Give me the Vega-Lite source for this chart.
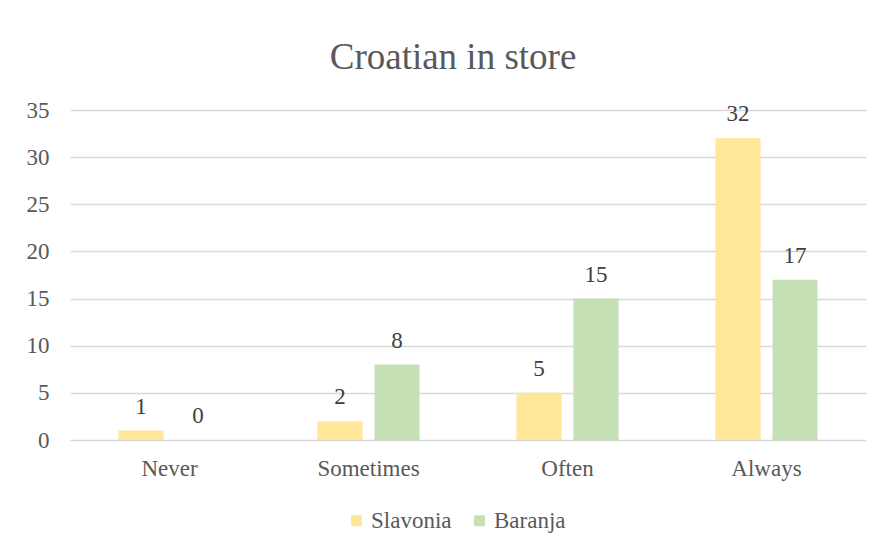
{
  "$schema": "https://vega.github.io/schema/vega-lite/v6.json",
  "autosize": {"type": "none"},
  "width": 796,
  "height": 330,
  "padding": {"left": 70, "top": 110, "right": 19, "bottom": 110},
  "background": "white",
  "title": {
    "text": "Croatian in store",
    "font": "Liberation Serif",
    "fontSize": 37,
    "fontWeight": "normal",
    "color": "#595959",
    "anchor": "middle",
    "frame": "group",
    "dx": -15,
    "offset": 22
  },
  "data": {
    "values": [
      {"cat": "Never", "series": "Slavonia", "value": 1},
      {"cat": "Never", "series": "Baranja", "value": 0},
      {"cat": "Sometimes", "series": "Slavonia", "value": 2},
      {"cat": "Sometimes", "series": "Baranja", "value": 8},
      {"cat": "Often", "series": "Slavonia", "value": 5},
      {"cat": "Often", "series": "Baranja", "value": 15},
      {"cat": "Always", "series": "Slavonia", "value": 32},
      {"cat": "Always", "series": "Baranja", "value": 17}
    ]
  },
  "encoding": {
    "x": {
      "field": "cat", "type": "nominal",
      "sort": ["Never", "Sometimes", "Often", "Always"],
      "scale": {"paddingInner": 0.487, "paddingOuter": 0.2435},
      "axis": {
        "title": null, "labelAngle": 0, "domain": false, "ticks": false,
        "labelFont": "Liberation Serif", "labelFontSize": 23, "labelColor": "#595959",
        "labelPadding": 17
      }
    },
    "xOffset": {
      "field": "series", "type": "nominal",
      "sort": ["Slavonia", "Baranja"],
      "scale": {"paddingInner": 0.21, "paddingOuter": 0}
    },
    "y": {
      "field": "value", "type": "quantitative",
      "scale": {"domain": [0, 35]},
      "axis": {
        "title": null, "values": [0, 5, 10, 15, 20, 25, 30, 35],
        "domain": false, "ticks": false,
        "labelFont": "Liberation Serif", "labelFontSize": 23, "labelColor": "#595959",
        "labelPadding": 21,
        "gridColor": "#d9d9d9", "gridWidth": 1.5
      }
    },
    "color": {
      "field": "series", "type": "nominal",
      "sort": ["Slavonia", "Baranja"],
      "scale": {"domain": ["Slavonia", "Baranja"], "range": ["#FFE699", "#C5E0B4"]},
      "legend": {
        "title": null, "orient": "none", "direction": "horizontal",
        "legendX": 275, "legendY": 399,
        "labelFont": "Liberation Serif", "labelFontSize": 23, "labelColor": "#595959",
        "symbolType": "square", "symbolSize": 121, "symbolStrokeWidth": 0,
        "columnPadding": 16, "labelOffset": 3
      }
    }
  },
  "layer": [
    {"mark": {"type": "bar"}},
    {
      "mark": {"type": "text", "dy": -24, "font": "Liberation Serif", "fontSize": 23, "color": "#404040"},
      "encoding": {"text": {"field": "value", "type": "quantitative"}, "color": {"value": "#404040"}}
    }
  ],
  "config": {"view": {"stroke": null}}
}
